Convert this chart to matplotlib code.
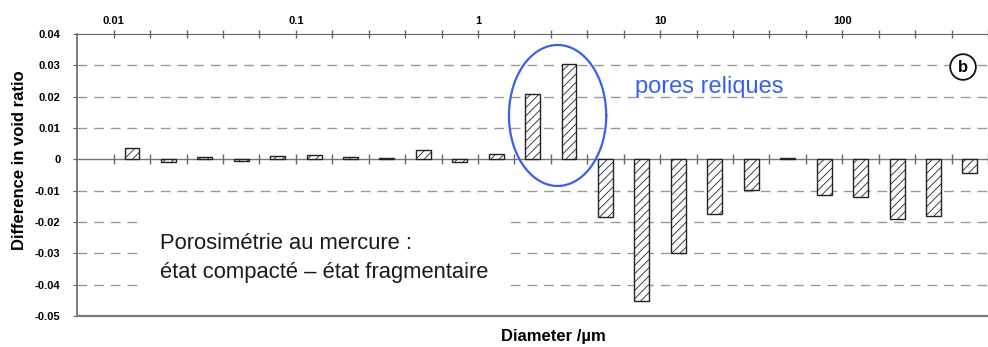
import numpy as np
import matplotlib.pyplot as plt
from matplotlib.patches import Rectangle

# Mercury porosimetry: compacted state minus fragmented state, per 0.2-decade class
diam_um = [0.0126, 0.0200, 0.0316, 0.0501, 0.0794, 0.126, 0.200, 0.316,
           0.501, 0.794, 1.26, 2.00, 3.16, 5.01, 7.94, 12.6, 20.0, 31.6,
           50.1, 79.4, 126, 200, 316, 501]
diff_void = [0.0035, -0.0008, 0.0008, -0.0005, 0.0012, 0.0015, 0.0008, 0.0004,
             0.0030, -0.0010, 0.0017, 0.0208, 0.0305, -0.0185, -0.0453, -0.0300,
             -0.0174, -0.0098, 0.0005, -0.0113, -0.0120, -0.0190, -0.0182, -0.0042]

major_ticks = [0.01, 0.1, 1, 10, 100]
major_labels = ["0.01", "0.1", "1", "10", "100"]
y_ticks = [0.04, 0.03, 0.02, 0.01, 0, -0.01, -0.02, -0.03, -0.04, -0.05]
y_labels = ["0.04", "0.03", "0.02", "0.01", "0", "-0.01", "-0.02", "-0.03", "-0.04", "-0.05"]

plt.rcParams["font.family"] = ["Liberation Sans", "DejaVu Sans"]
plt.rcParams["hatch.linewidth"] = 0.6

fig = plt.figure(figsize=(9.88, 3.47), dpi=100)
ax = fig.add_axes([0.0782, 0.0893, 0.9218, 0.8127])
ax.set_xscale("log")
ax.set_xlim(10 ** -2.2, 10 ** 2.756)
ax.set_ylim(-0.05, 0.04)

# bars: each class is 0.2 decade wide, bar covers ~40% of it
d = np.array(diam_um)
half = 10 ** 0.041
ax.bar(d / half, diff_void, width=d * half - d / half, align="edge",
       facecolor="white", edgecolor="#222222", linewidth=1.0,
       hatch="////", zorder=3)

# dashed grid, solid zero line
for yv in [0.03, 0.02, 0.01, -0.01, -0.02, -0.03, -0.04]:
    ax.axhline(yv, color="#9a9a9a", lw=1.0, ls=(0, (7, 5)), zorder=1)
ax.axhline(0, color="#777777", lw=1.0, zorder=2)

minor_ticks = 10 ** (np.arange(-10, 15) / 5)
ax.plot(minor_ticks, np.zeros_like(minor_ticks), ls="none", marker="|",
        markersize=7, color="#666666", mew=1.0, zorder=2)

# axes styling
ax.xaxis.set_ticks_position("top")
ax.xaxis.set_label_position("bottom")
ax.set_xticks(major_ticks, labels=major_labels)
ax.set_xticks([t for t in minor_ticks if t not in major_ticks], minor=True)
ax.xaxis.set_minor_formatter(plt.NullFormatter())
ax.tick_params(axis="x", which="both", direction="inout", length=6,
               color="#666666", width=1.0, labelsize=8, pad=3)
for lbl in ax.get_xticklabels():
    lbl.set_fontweight("bold")

ax.set_yticks(y_ticks, labels=y_labels)
ax.tick_params(axis="y", direction="out", length=3, color="#666666",
               labelsize=8, pad=9)
for lbl in ax.get_yticklabels():
    lbl.set_fontweight("bold")

ax.spines["right"].set_visible(False)
ax.spines["top"].set_color("#666666")
ax.spines["left"].set_color("#666666")
ax.spines["left"].set_linewidth(1.2)
ax.spines["bottom"].set_color("#777777")
ax.spines["bottom"].set_linewidth(1.6)

ax.set_ylabel("Difference in void ratio", fontsize=12, fontweight="bold")
ax.yaxis.set_label_coords(-0.055, 0.553)
ax.set_xlabel("Diameter /\u00b5m", fontsize=12, fontweight="bold")
ax.xaxis.set_label_coords(0.523, -0.046)

# ellipse around the relict pores, drawn in log-x space
t = np.linspace(0, 2 * np.pi, 200)
ax.plot(10 ** (0.437 + 0.267 * np.cos(t)), 0.0140 + 0.0225 * np.sin(t),
        color="#3a60ea", lw=1.6, zorder=5)

ax.text(0.612, 0.791, "pores reliques", transform=ax.transAxes,
        fontsize=17, color="#3a60ea", va="baseline")

ax.text(0.9726, 0.883, "b", transform=ax.transAxes, fontsize=12,
        fontweight="bold", ha="center", va="center",
        bbox=dict(boxstyle="circle,pad=0.32", fc="white", ec="#111111", lw=1.3),
        zorder=6)

# caption box over the grid
ax.add_patch(Rectangle((0.069, 0.064), 0.404, 0.301, transform=ax.transAxes,
                       facecolor="white", edgecolor="none", zorder=2.5))
ax.text(0.0909, 0.296, "Porosimétrie au mercure :\nétat compacté \u2013 état fragmentaire",
        transform=ax.transAxes, fontsize=15.8, color="#1a1a1a",
        va="top", linespacing=1.5, zorder=4)

fig.savefig("out.png", dpi=100)
